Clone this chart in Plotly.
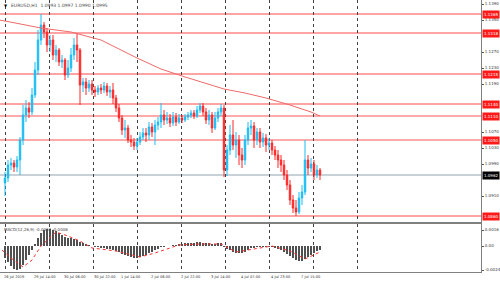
import plotly.graph_objects as go

# ---------------- data ----------------
first_open = 1.09425
closes = [1.0955, 1.09875, 1.09925, 1.09825, 1.1000, 1.1050, 1.11125, 1.1130, 1.1120, 1.11625,
          1.1225, 1.1300, 1.13375, 1.1320, 1.12875, 1.1300, 1.12625, 1.1275, 1.1245, 1.1250,
          1.12125, 1.1230, 1.12625, 1.12875, 1.1275, 1.11875, 1.1195, 1.1180, 1.1190, 1.1175,
          1.1170, 1.1180, 1.1175, 1.1185, 1.1170, 1.1175, 1.1155, 1.1130, 1.1105, 1.1075,
          1.1080, 1.1050, 1.1045, 1.1035, 1.1045, 1.10575, 1.10675, 1.10625, 1.10825, 1.1070,
          1.10875, 1.1095, 1.11125, 1.1100, 1.1105, 1.10925, 1.11075, 1.1095, 1.1105, 1.1100,
          1.11075, 1.11125, 1.11175, 1.1110, 1.1125, 1.1135, 1.1120, 1.1100, 1.11125, 1.1080,
          1.1105, 1.1120, 1.1130, 1.0975, 1.1025, 1.10625, 1.10375, 1.1050, 1.10125, 1.1000,
          1.1050, 1.1080, 1.1085, 1.1050, 1.1070, 1.1045, 1.1055, 1.10375, 1.10425, 1.1025,
          1.10125, 1.1000, 1.09875, 1.09625, 1.09375, 1.0900, 1.0880, 1.0870, 1.0905, 1.0920,
          1.1000, 1.0980, 1.0990, 1.09625, 1.0975, 1.09625]
highs = [1.0970, 1.1000, 1.1005, 1.1000, 1.1010, 1.10575, 1.11375, 1.1150, 1.1145, 1.1180,
         1.1245, 1.1325, 1.1365, 1.1345, 1.1330, 1.13125, 1.13125, 1.12875, 1.1280, 1.12625,
         1.1255, 1.1250, 1.1280, 1.1305, 1.13175, 1.1280, 1.1205, 1.1205, 1.1200, 1.1200,
         1.1185, 1.11875, 1.1190, 1.1195, 1.11925, 1.1185, 1.11925, 1.11625, 1.1140, 1.11125,
         1.1100, 1.10875, 1.10625, 1.1055, 1.1055, 1.1070, 1.1080, 1.1080, 1.1095, 1.10925,
         1.1100, 1.11075, 1.11425, 1.1125, 1.1120, 1.1115, 1.1120, 1.11175, 1.1115, 1.11125,
         1.1115, 1.1120, 1.1125, 1.1125, 1.1135, 1.11425, 1.11425, 1.1130, 1.1125, 1.1120,
         1.1120, 1.1130, 1.1140, 1.11375, 1.10375, 1.10875, 1.1100, 1.1070, 1.10625, 1.1030,
         1.10625, 1.1095, 1.1100, 1.1095, 1.1080, 1.1080, 1.10675, 1.1065, 1.1055, 1.1050,
         1.1035, 1.1025, 1.10125, 1.1000, 1.0975, 1.0950, 1.09125, 1.0900, 1.0920, 1.09375,
         1.1050, 1.10125, 1.1005, 1.1000, 1.09875, 1.0980]
lows = [1.0910, 1.0945, 1.0975, 1.0970, 1.0970, 1.09625, 1.10375, 1.1095, 1.1105, 1.11125,
        1.1155, 1.12125, 1.12875, 1.1305, 1.1270, 1.1270, 1.1250, 1.1245, 1.1235, 1.1230,
        1.1200, 1.1205, 1.1220, 1.1250, 1.1245, 1.11375, 1.1170, 1.11625, 1.1170, 1.11625,
        1.11575, 1.11625, 1.1165, 1.11675, 1.1160, 1.1155, 1.1140, 1.1120, 1.1095, 1.10625,
        1.1055, 1.10425, 1.10325, 1.1025, 1.1025, 1.10375, 1.1050, 1.1045, 1.1050, 1.10575,
        1.10375, 1.1075, 1.1080, 1.10875, 1.1090, 1.10825, 1.1085, 1.1085, 1.1090, 1.10925,
        1.1095, 1.1100, 1.1105, 1.11025, 1.1105, 1.11175, 1.1110, 1.1090, 1.10875, 1.10675,
        1.1075, 1.1095, 1.1110, 1.09575, 1.0960, 1.10125, 1.1025, 1.1005, 1.09875, 1.0980,
        1.09875, 1.10375, 1.10625, 1.1030, 1.10375, 1.1030, 1.10325, 1.1020, 1.1025, 1.10125,
        1.1000, 1.0980, 1.0970, 1.0950, 1.0925, 1.08875, 1.08675, 1.0860, 1.0865, 1.08875,
        1.09125, 1.09625, 1.0970, 1.0950, 1.0955, 1.0950]

# moving average (read at a set of bars)
ma_bars = [-2, 0, 12, 22, 32, 44, 52, 59, 73, 80, 87, 95, 102, 105]
ma_vals = [1.1350, 1.13475, 1.1330, 1.1320, 1.1300, 1.1255, 1.12275, 1.1210,
           1.11775, 1.11675, 1.1155, 1.11375, 1.1120, 1.1110]

# MACD histogram (per bar) and signal line
macd_hist = [-0.0012, -0.0016, -0.0020, -0.0023, -0.0024, -0.0023, -0.0019, -0.0014, -0.0009, -0.0004,
             0.0002, 0.0008, 0.0013, 0.0016, 0.0017, 0.0017, 0.0016, 0.0015, 0.0013, 0.0011,
             0.0009, 0.0008, 0.0008, 0.0007, 0.0006, 0.0004, 0.0003, 0.0002, 0.0001, 0.0000,
             -0.0001, -0.0001, -0.0002, -0.0002, -0.0003, -0.0003, -0.0004, -0.0005, -0.0006, -0.0008,
             -0.0009, -0.0010, -0.0011, -0.0012, -0.0012, -0.0011, -0.0010, -0.0009, -0.0007, -0.0006,
             -0.0004, -0.0003, -0.0001, -0.0001, 0.0000, 0.0000, 0.0001, 0.0001, 0.0002, 0.0002,
             0.0003, 0.0003, 0.0003, 0.0003, 0.0004, 0.0004, 0.0003, 0.0003, 0.0003, 0.0002,
             0.0002, 0.0003, 0.0003, -0.0001, -0.0003, -0.0004, -0.0006, -0.0007, -0.0007, -0.0007,
             -0.0006, -0.0004, -0.0002, -0.0002, -0.0001, -0.0001, -0.0001, -0.0001, -0.0001, -0.0001,
             -0.0002, -0.0003, -0.0004, -0.0006, -0.0008, -0.0010, -0.0012, -0.0014, -0.0015, -0.0015,
             -0.0013, -0.0011, -0.0009, -0.0007, -0.0005, -0.0004]
sig_bars = [-1, 2, 6, 9, 12, 17, 21, 25, 29, 37, 45, 50, 58, 65, 72, 77, 85, 89, 95, 100, 105]
sig_vals = [-0.0004, -0.0012, -0.0021, -0.0014, 0.0000, 0.0014, 0.0010, 0.0005, -0.0002, -0.0005,
            -0.0011, -0.0007, 0.0001, 0.0002, 0.0002, -0.0006, -0.0002, 0.0000, -0.0005, -0.0013, -0.0006]

# horizontal levels
levels = [1.1365, 1.13175, 1.1215, 1.1140, 1.1110, 1.1050, 1.0860]
level_is_light = [False, False, False, False, True, True, False]
current_price = 1.09625

# price tick candidates
price_ticks = [1.1390, 1.1350, 1.1310, 1.1270, 1.1230, 1.1190, 1.1150, 1.1110,
               1.1070, 1.1030, 1.0990, 1.0950, 1.0910, 1.0870]

# time labels
time_label_bars = [-1, 9, 19, 29, 38, 48, 58, 68, 78, 88, 98]
time_labels = ["26 Jul 2019", "29 Jul 14:00", "30 Jul 06:00", "30 Jul 22:00", "1 Jul 14:00",
               "2 Jul 06:00", "2 Jul 22:00", "3 Jul 14:00", "4 Jul 07:00", "4 Jul 23:00", "7 Jul 15:00"]

macd_ticks = [0.0016, 0.0, -0.0024]
macd_ticktext = ["0.0016", "0.00", "-0.0024"]

title_text = "EURUSD,H1  1.0993 1.0997 1.0990 1.0995"
macd_text = "MACD(12,26,9) -0.0004 -0.0006"

# ---------------- figure ----------------
n = len(closes)
bars = list(range(n))
opens = [first_open] + closes[:-1]

FONT = "DejaVu Sans"
XR = [-5 / 3, 476 / 3]
grid_bars = [0.25 + k * 44 / 3 for k in range(9)]

# hide price ticks that would sit under a level label
marked = levels + [current_price]
shown_ticks = [t for t in price_ticks if min(abs(t - m) for m in marked) > 0.0013]

fig = go.Figure()
fig.add_trace(go.Candlestick(
    x=bars, open=opens, high=highs, low=lows, close=closes,
    xaxis="x", yaxis="y", whiskerwidth=0,
    increasing=dict(line=dict(color="#1cbcf2", width=1), fillcolor="#1cbcf2"),
    decreasing=dict(line=dict(color="#ff2828", width=1), fillcolor="#ff2828"),
    showlegend=False, hoverinfo="skip"))
fig.add_trace(go.Scatter(x=ma_bars, y=ma_vals, mode="lines", xaxis="x", yaxis="y",
                         line=dict(color="#f06a6a", width=1), showlegend=False, hoverinfo="skip"))
fig.add_trace(go.Bar(x=bars, y=macd_hist, xaxis="x2", yaxis="y2", width=0.55,
                     marker=dict(color="#505050", line=dict(width=0)), showlegend=False, hoverinfo="skip"))
fig.add_trace(go.Scatter(x=sig_bars, y=sig_vals, mode="lines", xaxis="x2", yaxis="y2",
                         line=dict(color="#ff3030", width=1, dash="dot"), showlegend=False, hoverinfo="skip"))

shapes = []
annotations = []
for p, light in zip(levels, level_is_light):
    col = "#ffaaaa" if light else "#ff4848"
    shapes.append(dict(type="line", xref="paper", x0=0, x1=1, yref="y", y0=p, y1=p,
                       line=dict(color=col, width=2 if light else 1), layer="below"))
    annotations.append(dict(xref="paper", x=1, xanchor="left", xshift=1, yref="y", y=p,
                            text=f"{p:.4f}", showarrow=False, bgcolor="#ff1a1a", borderpad=1,
                            font=dict(family=FONT, size=4, color="white")))
shapes.append(dict(type="line", xref="paper", x0=0, x1=1, yref="y", y0=current_price, y1=current_price,
                   line=dict(color="#c8d0d8", width=2), layer="below"))
annotations.append(dict(xref="paper", x=1, xanchor="left", xshift=1, yref="y", y=current_price,
                        text=f"{current_price:.4f}", showarrow=False, bgcolor="#000000", borderpad=1,
                        font=dict(family=FONT, size=4, color="white")))

for b, t in zip(time_label_bars, time_labels):
    annotations.append(dict(xref="x2", x=b, xanchor="left", yref="paper", y=0, yanchor="top",
                            yshift=-1, text=t, showarrow=False,
                            font=dict(family=FONT, size=3.6, color="#333333")))

annotations.append(dict(xref="paper", x=0.004, xanchor="left", yref="paper", y=1, yanchor="top",
                        yshift=-1, text="▼", showarrow=False, font=dict(family=FONT, size=4, color="#000")))
annotations.append(dict(xref="paper", x=0.018, xanchor="left", yref="paper", y=1, yanchor="top",
                        yshift=-1, text=title_text, showarrow=False,
                        font=dict(family=FONT, size=4.5, color="#444444")))
annotations.append(dict(xref="paper", x=0.004, xanchor="left", yref="paper", y=(272 - 225) / 272,
                        yanchor="top", text=macd_text, showarrow=False,
                        font=dict(family=FONT, size=4, color="#444444")))

common_x = dict(range=XR, tickmode="array", tickvals=grid_bars, showticklabels=False, ticks="",
                showgrid=True, gridcolor="#404040", griddash="dot", gridwidth=1, zeroline=False,
                showline=True, linecolor="#808080")
fig.update_layout(
    width=500, height=281,
    margin=dict(l=0, r=19, t=0, b=9),
    paper_bgcolor="white", plot_bgcolor="white",
    showlegend=False, hovermode=False, bargap=0,
    xaxis=dict(domain=[0, 1], anchor="y", linewidth=2, rangeslider=dict(visible=False), **common_x),
    xaxis2=dict(domain=[0, 1], anchor="y2", linewidth=1, **common_x),
    yaxis=dict(domain=[(272 - 222) / 272, 1], anchor="x", side="right", range=[1.0845, 1.1400],
               tickmode="array", tickvals=shown_ticks, ticktext=[f"{t:.4f}" for t in shown_ticks],
               ticks="outside", ticklen=2,
               tickcolor="#555", tickfont=dict(family=FONT, size=4, color="#333"),
               showgrid=False, zeroline=False, showline=True, linecolor="#808080", linewidth=1),
    yaxis2=dict(domain=[0, (272 - 224) / 272], anchor="x2", side="right", range=[-0.0026, 0.0022],
                tickmode="array", tickvals=macd_ticks, ticktext=macd_ticktext, ticks="outside",
                ticklen=2, tickcolor="#555", tickfont=dict(family=FONT, size=4, color="#333"),
                showgrid=False, zeroline=False, showline=True, linecolor="#808080", linewidth=1),
    shapes=shapes, annotations=annotations,
)
fig.write_html("out.html")
